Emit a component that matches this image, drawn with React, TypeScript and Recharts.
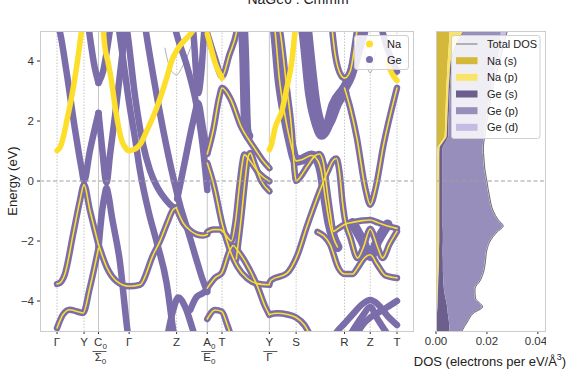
import React from 'react';
import { ComposedChart, Line, Area, XAxis, YAxis, ReferenceLine } from 'recharts';

const FONT = '"Liberation Sans", Arial, sans-serif';
const PURPLE = '#7a6daa';
const YELLOW = '#fdde2a';

type Pt = [number, number];

// k-path (high symmetry points) and labels
const kTicks = [0, 0.27, 0.414, 0.72, 1.194, 1.5, 1.647, 2.12, 2.387, 2.87, 3.127, 3.394];
const kLabels = ['Γ', 'Y', 'C_0|Σ_0', 'Γ', 'Z', 'A_0|E_0', 'T', 'Y|Γ', 'S', 'R', 'Z', 'T'];
const kSolid = [0.414, 0.72, 1.5, 2.12];
const eTicks = [-4, -2, 0, 2, 4];

// Na dominated bands
const na1: Pt[] = [[0, 1.01], [0.03, 1.12], [0.06, 1.43], [0.1, 2.05], [0.144, 2.77], [0.194, 3.77], [0.244, 4.99], [0.26, 5.4]];
const na2: Pt[] = [[0.46, 5.1], [0.477, 4.49], [0.51, 3.95], [0.544, 3.32], [0.587, 2.32], [0.644, 1.37], [0.68, 1.12], [0.72, 1.01], [0.76, 1.04], [0.794, 1.1], [0.827, 1.21], [0.894, 1.66], [0.994, 2.43], [1.094, 3.43], [1.144, 4.0], [1.21, 4.43], [1.327, 4.88], [1.4, 5.2]];
const na3: Pt[] = [[1.5, 4.9], [1.54, 4.4], [1.577, 3.95], [1.62, 3.6], [1.647, 3.43]];
const na4: Pt[] = [[2.12, 1.04], [2.14, 1.2], [2.177, 1.77], [2.244, 2.32], [2.294, 3.1], [2.344, 3.99], [2.377, 4.99], [2.4, 5.5]];
const na5: Pt[] = [[3.3, 3.9], [3.35, 3.55], [3.394, 3.35]];

// Ge dominated bands: Γ–Y–C0
const gY1: Pt[] = [[0, 5.3], [0.03, 4.95], [0.094, 3.66], [0.177, 1.77], [0.244, 0.43], [0.27, 0.0], [0.327, 0.99], [0.414, 2.27]];
const gY2: Pt[] = [[0.3, 5.5], [0.32, 5.0], [0.377, 3.77], [0.414, 3.27]];
const gY3: Pt[] = [[0, -3.43], [0.027, -3.4], [0.077, -3.12], [0.16, -1.79], [0.227, -0.68], [0.27, -0.12], [0.327, -0.96], [0.414, -2.12]];
const gY4: Pt[] = [[0, -4.9], [0.06, -4.45], [0.127, -4.29], [0.2, -4.35], [0.26, -4.4], [0.327, -3.57], [0.414, -2.24]];
// Σ0–Γ–Z
const gS1: Pt[] = [[0.414, 3.27], [0.46, 3.66], [0.527, 4.99], [0.55, 5.5]];
const gS2: Pt[] = [[0.414, 2.27], [0.45, 1.1], [0.494, -0.05], [0.53, 0.9], [0.58, 2.2], [0.63, 3.6], [0.68, 5.0], [0.7, 5.5]];
const gS3: Pt[] = [[0.414, -2.24], [0.45, -1.0], [0.477, -0.45], [0.494, -0.23], [0.515, -0.5], [0.544, -1.12], [0.627, -2.68], [0.7, -4.9], [0.72, -5.4]];
const gS4: Pt[] = [[0.414, -2.12], [0.5, -2.9], [0.594, -3.34], [0.72, -3.51], [0.827, -3.46], [0.96, -2.46], [1.027, -2.01], [1.1, -1.4], [1.16, -0.95], [1.194, -0.88]];
const gG1: Pt[] = [[0.6, 5.5], [0.65, 4.3], [0.72, 2.6], [0.78, 1.4], [0.827, 0.37], [0.92, -1.1], [0.994, -2.02], [1.094, -3.4], [1.16, -4.97], [1.19, -5.6]];
const gG2: Pt[] = [[0.67, 5.6], [0.7, 5.0], [0.78, 2.8], [0.86, 1.2], [0.927, 0.37], [1.0, -0.2], [1.08, -0.6], [1.16, -0.87], [1.194, -0.92]];
const gG3: Pt[] = [[0.86, 5.6], [0.887, 5.0], [0.994, 2.88], [1.09, 1.2], [1.177, -0.12], [1.194, -0.35], [1.24, -0.95], [1.294, -1.52], [1.39, -2.6], [1.45, -3.25], [1.5, -3.7]];
const gG4: Pt[] = [[1.094, -5.3], [1.16, -4.3], [1.21, -3.88], [1.28, -4.2], [1.36, -5.0], [1.4, -5.4]];
// Z–A0
const gZ1: Pt[] = [[1.194, -0.92], [1.26, -1.4], [1.33, -1.65], [1.394, -1.78], [1.46, -1.82], [1.5, -1.78]];
const gZ2: Pt[] = [[1.15, 5.5], [1.194, 4.9], [1.3, 3.8], [1.394, 2.5], [1.45, 1.3], [1.5, -0.3]];
const gZ3: Pt[] = [[1.33, 5.5], [1.36, 4.99], [1.394, 3.4], [1.41, 2.93], [1.44, 3.6], [1.47, 4.99], [1.49, 5.5]];
const gZ4: Pt[] = [[1.33, -4.3], [1.394, -3.86], [1.45, -3.75], [1.5, -3.63]];
const gZ5: Pt[] = [[1.2, -0.6], [1.277, 0.66], [1.36, 2.0], [1.41, 2.6], [1.45, 1.9], [1.5, 0.93]];
// E0–T–Y
const gE1: Pt[] = [[1.5, 4.92], [1.577, 4.1], [1.647, 3.48], [1.72, 4.2], [1.794, 4.99], [1.82, 5.5]];
const gE2: Pt[] = [[1.5, 0.9], [1.56, 1.7], [1.62, 2.8], [1.647, 3.1], [1.73, 2.75], [1.844, 1.77], [1.9, 1.45], [1.98, 1.05], [2.05, 0.7], [2.12, 0.43]];
const gE3: Pt[] = [[1.5, -1.7], [1.56, -1.62], [1.627, -1.62], [1.68, -1.78], [1.74, -2.0], [1.78, -1.4], [1.82, -0.2], [1.85, 0.6], [1.87, 0.88], [1.92, 0.7], [2.02, 0.25], [2.12, -0.01]];
const gE4: Pt[] = [[1.79, -2.6], [1.84, -1.2], [1.88, 0.1], [1.907, 0.8], [1.93, 0.93], [1.97, 0.6], [2.04, 0.0], [2.12, -0.34]];
const gE5: Pt[] = [[1.5, -3.57], [1.577, -3.23], [1.644, -3.07], [1.72, -2.35], [1.76, -2.15], [1.8, -2.3], [1.877, -2.68], [2.0, -3.5], [2.08, -4.2], [2.12, -4.46]];
const gE6: Pt[] = [[1.5, 0.6], [1.57, -0.2], [1.647, -1.41], [1.72, -2.25], [1.8, -2.85], [1.9, -3.25], [2.0, -3.42], [2.12, -3.46]];
const gE7: Pt[] = [[1.5, -4.6], [1.577, -4.3], [1.644, -4.35], [1.7, -4.8], [1.76, -5.4]];
const gE8: Pt[] = [[1.85, 5.5], [1.87, 4.0], [1.88, 2.5], [1.89, 1.7], [1.91, 1.5]];
// Γ–S–R–Z–T
const gR1: Pt[] = [[2.18, 5.6], [2.227, 4.99], [2.294, 3.1], [2.344, 1.66], [2.37, 0.4], [2.387, 0.0], [2.42, 0.1], [2.5, 0.5], [2.58, 0.85], [2.62, 0.9], [2.66, 0.6], [2.7, -0.4], [2.73, -1.12], [2.76, -1.68], [2.8, -1.6], [2.87, -1.45], [2.95, -1.38], [3.05, -1.32], [3.127, -1.3], [3.2, -1.38], [3.3, -1.5], [3.394, -1.58]];
const gR2: Pt[] = [[2.15, 5.6], [2.177, 4.99], [2.22, 3.4], [2.27, 2.3], [2.33, 1.3], [2.387, 0.67], [2.45, 0.72], [2.54, 0.85], [2.6, 0.7], [2.64, 0.3], [2.68, -0.6], [2.72, -1.4], [2.76, -1.9], [2.8, -2.2]];
const gR3: Pt[] = [[2.12, -3.41], [2.14, -3.3], [2.294, -3.08], [2.394, -2.52], [2.494, -1.52], [2.627, -0.3], [2.7, 0.3], [2.76, 0.7], [2.79, 0.75], [2.82, 0.3], [2.85, -0.7], [2.87, -1.2], [2.93, -1.9], [3.0, -2.57], [3.06, -2.2], [3.127, -1.6], [3.2, -2.2], [3.25, -2.57], [3.32, -2.1], [3.394, -1.68]];
const gR4: Pt[] = [[2.6, -1.7], [2.727, -2.12], [2.81, -2.9], [2.87, -3.1], [2.95, -3.1], [3.0, -2.9], [3.06, -2.6], [3.127, -2.46], [3.2, -2.8], [3.28, -3.15], [3.394, -3.23]];
const gR5: Pt[] = [[2.95, -1.4], [3.05, -2.0], [3.127, -2.5], [3.2, -2.0], [3.3, -1.45]];
const gR6: Pt[] = [[2.12, -4.45], [2.2, -4.41], [2.3, -4.45], [2.387, -4.55], [2.47, -4.8], [2.55, -5.3]];
const gR7: Pt[] = [[2.7, -5.5], [2.8, -5.0], [2.87, -4.75], [2.95, -4.45], [3.05, -4.1], [3.127, -3.97], [3.2, -4.1], [3.3, -4.5], [3.394, -4.8]];
const gR8: Pt[] = [[2.87, -5.4], [2.95, -5.0], [3.05, -4.5], [3.127, -4.2], [3.2, -4.6], [3.3, -5.1], [3.394, -5.4]];
const gR9: Pt[] = [[2.95, -5.4], [3.05, -4.8], [3.127, -4.55], [3.2, -4.4], [3.3, -4.2], [3.394, -4.0]];
const gR10: Pt[] = [[2.43, 5.6], [2.46, 4.99], [2.527, 2.88], [2.594, 1.88], [2.644, 1.54], [2.694, 1.77], [2.76, 2.54], [2.87, 3.1], [2.93, 3.5], [3.0, 4.3], [3.06, 5.0], [3.1, 5.5]];
const gR11: Pt[] = [[2.48, 5.6], [2.52, 4.3], [2.58, 2.6], [2.62, 2.0], [2.67, 1.75], [2.72, 1.95], [2.8, 2.6], [2.87, 2.95]];
const gR12: Pt[] = [[2.87, 3.1], [2.93, 2.4], [2.994, 1.43], [3.077, -0.23], [3.127, -0.79], [3.18, -0.25], [3.26, 1.21], [3.377, 2.88], [3.394, 3.1]];
const gR13: Pt[] = [[2.73, 5.6], [2.777, 4.21], [2.84, 3.5], [2.87, 3.43], [2.927, 3.66], [2.994, 4.99], [3.02, 5.5]];
const gR14: Pt[] = [[3.2, 5.6], [3.3, 4.4], [3.394, 3.65]];

// bands with almost no projected weight (thin total line)
const bare1: Pt[] = [[1.077, 4.43], [1.13, 3.75], [1.194, 3.54], [1.25, 3.8], [1.307, 4.21], [1.35, 4.6]];
const bare2: Pt[] = [[3.07, 4.3], [3.127, 3.6], [3.18, 4.3]];

const naBands = [na1, na2, na3, na4, na5];
const geBands = [gY1, gY2, gY3, gY4, gS1, gS2, gS3, gS4, gG1, gG2, gG3, gG4, gZ1, gZ2, gZ3, gZ4, gZ5, gE1, gE2, gE3, gE4, gE5, gE6, gE7, gR1, gR3, gR4, gR6, gR7, gR8, gR9, gR12, gR13, gR14];
const geWideBands = [gE8, gR2, gR5, gR10, gR11];
const naCoreBands = [gY3, gY4, gS4, gZ1, gE1, gE2, gE3, gE4, gE5, gE6, gE7, gR1, gR2, gR3, gR4, gR6, gR12, gR13];
const bareBands = [bare1, bare2];

// DOS (electrons per eV/Å^3, in units of 1e-3)
const dosE = [-5, -4.7, -4.4, -4.2, -3.9, -3.6, -3.3, -3, -2.7, -2.3, -2, -1.7, -1.5, -1.3, -1, -0.5, 0, 0.4, 0.8, 1.1, 1.3, 1.5, 2, 2.5, 3, 3.5, 4, 4.5, 5];
const dosTotal = [10.2, 12.3, 14.8, 18.3, 15.5, 15.3, 17.5, 18.8, 19.4, 20, 21.3, 24, 26.4, 24.5, 22.5, 21, 20, 19.2, 18.8, 18.6, 18.8, 19.2, 20, 21, 22, 23.5, 25, 26.5, 28];
const dosNaS = [0.1, 0.1, 0.1, 0.2, 0.2, 0.2, 0.2, 0.3, 0.3, 0.3, 0.3, 0.3, 0.3, 0.3, 0.3, 0.3, 0.4, 0.4, 0.4, 0.6, 2.0, 3.4, 3.6, 3.8, 4.0, 4.3, 4.6, 5.0, 5.3];
const dosNaP = [0.2, 0.2, 0.3, 0.4, 0.5, 0.6, 0.7, 0.8, 0.9, 0.9, 1.0, 1.0, 1.0, 1.0, 1.0, 1.0, 0.9, 0.9, 0.9, 0.8, 0.8, 0.8, 0.8, 0.9, 0.9, 1.0, 1.2, 2.5, 5.5];
const dosGeS = [5.0, 4.8, 4.2, 3.8, 3.0, 2.3, 2.0, 1.6, 1.5, 1.4, 1.4, 1.4, 1.3, 1.3, 1.3, 1.3, 1.3, 1.3, 1.3, 1.2, 1.0, 0.6, 0.5, 0.5, 0.5, 0.5, 0.5, 0.5, 0.5];
const dosGeP = [4.7, 7.0, 10.0, 13.6, 11.5, 11.9, 14.3, 15.8, 16.4, 17.1, 18.3, 21.0, 23.5, 21.6, 19.6, 18.1, 17.1, 16.3, 15.9, 15.7, 14.7, 14.1, 14.7, 15.3, 16.0, 16.9, 17.7, 17.0, 14.2];
const dosGeD = [0.2, 0.2, 0.2, 0.3, 0.3, 0.3, 0.3, 0.3, 0.3, 0.3, 0.3, 0.3, 0.3, 0.3, 0.3, 0.3, 0.3, 0.3, 0.3, 0.3, 0.3, 0.3, 0.4, 0.5, 0.6, 0.8, 1.0, 1.5, 2.5];
const dosTicks = [0, 20, 40];

const dosRows = dosE.map((e, i) => ({
  e,
  total: dosTotal[i],
  naS: dosNaS[i],
  naP: dosNaP[i],
  geS: dosGeS[i],
  geP: dosGeP[i],
  geD: dosGeD[i],
}));

const dosSeries = [
  { key: 'naS', name: 'Na (s)', color: '#d4b83a' },
  { key: 'naP', name: 'Na (p)', color: '#fae36a' },
  { key: 'geS', name: 'Ge (s)', color: '#6c5f8e' },
  { key: 'geP', name: 'Ge (p)', color: '#978ebb' },
  { key: 'geD', name: 'Ge (d)', color: '#c6bbe3' },
];

const toRows = (pts: Pt[]) => pts.map(([k, e]) => ({ k, e }));

const minus = (v: number) => (v < 0 ? `\u2212${-v}` : `${v}`);

const Sym = ({ x, y, s }: { x: number; y: number; s: string }) => {
  const [main, sub] = s.split('_');
  return (
    <text x={x} y={y} textAnchor="middle" fontSize={11.5} fill="#333" fontFamily={FONT}>
      {main}
      {sub && (
        <tspan fontSize={8} dy={3}>
          {sub}
        </tspan>
      )}
    </text>
  );
};

const KTick = (props: any) => {
  const { x, y, payload } = props;
  const i = kTicks.indexOf(payload.value);
  const parts = (kLabels[i] || '').split('|');
  if (parts.length === 1) return <Sym x={x} y={y + 9} s={parts[0]} />;
  return (
    <g>
      <Sym x={x + (parts[0].includes('_') ? 2 : 0)} y={y + 9} s={parts[0]} />
      <line x1={x - 6} x2={x + 8} y1={y + 14.5} y2={y + 14.5} stroke="#333" strokeWidth={0.8} />
      <Sym x={x + (parts[1].includes('_') ? 2 : 0)} y={y + 24} s={parts[1]} />
    </g>
  );
};

// outward tick marks for the DOS energy axis (labels are shared with the band panel)
const DosYTick = (props: any) => {
  const { y } = props;
  return <line x1={432} x2={436} y1={y} y2={y} stroke="#333" />;
};

const bandLine = (pts: Pt[], key: string, stroke: string, width: number) => (
  <Line
    key={key}
    data={toRows(pts)}
    dataKey="e"
    type="monotone"
    stroke={stroke}
    strokeWidth={width}
    strokeLinecap="round"
    strokeLinejoin="round"
    dot={false}
    activeDot={false}
    isAnimationActive={false}
  />
);

const BandChart = () => (
  <ComposedChart width={414} height={377} margin={{ top: 31, right: 0, bottom: 0, left: 0 }}>
    <XAxis
      type="number"
      dataKey="k"
      domain={[-0.17, 3.564]}
      ticks={kTicks}
      interval={0}
      allowDataOverflow
      height={46}
      axisLine={false}
      tickSize={3}
      tickMargin={3}
      tickLine={{ stroke: '#333' }}
      tick={<KTick />}
    />
    <YAxis
      type="number"
      domain={[-5, 5]}
      ticks={eTicks}
      allowDataOverflow
      width={40}
      axisLine={false}
      tickSize={3}
      tickMargin={3}
      tickLine={{ stroke: '#333' }}
      tickFormatter={minus}
      tick={{ fill: '#333', fontSize: 11.5, fontFamily: FONT }}
    />
    {kTicks.map((k, i) => (
      <ReferenceLine
        key={`v${i}`}
        x={k}
        stroke="#b8b8b8"
        strokeWidth={0.8}
        strokeDasharray={kSolid.includes(k) ? undefined : '1.5 1.5'}
      />
    ))}
    {bareBands.map((b, i) => bandLine(b, `bare${i}`, '#9a9a9a', 0.8))}
    {geWideBands.map((b, i) => bandLine(b, `gw${i}`, PURPLE, 10))}
    {geBands.map((b, i) => bandLine(b, `g${i}`, PURPLE, 6.5))}
    {naBands.map((b, i) => bandLine(b, `na${i}`, YELLOW, 5.5))}
    {naCoreBands.map((b, i) => bandLine(b, `nc${i}`, YELLOW, 1.6))}
    <ReferenceLine y={0} stroke="#a0a0a0" strokeWidth={1.2} strokeDasharray="4 2.5" />
  </ComposedChart>
);

const DosChart = () => (
  <ComposedChart layout="vertical" width={546} height={377} data={dosRows} margin={{ top: 31, right: 0, bottom: 0, left: 436 }}>
    <XAxis
      type="number"
      domain={[0, 43.2]}
      ticks={dosTicks}
      allowDataOverflow
      height={46}
      axisLine={false}
      tickSize={3}
      tickMargin={3}
      tickLine={{ stroke: '#333' }}
      tickFormatter={(v: number) => (v / 1000).toFixed(2)}
      tick={{ fill: '#333', fontSize: 11.5, fontFamily: FONT }}
    />
    <YAxis
      type="number"
      dataKey="e"
      domain={[-5, 5]}
      ticks={eTicks}
      reversed
      allowDataOverflow
      width={0}
      axisLine={false}
      tickLine={false}
      tick={<DosYTick />}
    />
    {dosSeries.map((s) => (
      <Area
        key={s.key}
        dataKey={s.key}
        stackId="dos"
        type="monotone"
        stroke="none"
        fill={s.color}
        fillOpacity={1}
        isAnimationActive={false}
      />
    ))}
    <Line dataKey="total" type="monotone" stroke="#707070" strokeWidth={1} dot={false} activeDot={false} isAnimationActive={false} />
    <ReferenceLine y={0} stroke="#a0a0a0" strokeWidth={1.2} strokeDasharray="4 2.5" />
  </ComposedChart>
);

const Overlay = () => {
  const rows = [44, 60.7, 77.3, 94, 110.7, 127.3];
  return (
    <svg width={574} height={377} style={{ position: 'absolute', left: 0, top: 0, pointerEvents: 'none' }} fontFamily={FONT}>
      <text x={298} y={4} textAnchor="middle" fontSize={14} fill="#222">
        NaGe6 : Cmmm
      </text>
      <rect x={40.5} y={31.5} width={373} height={300} fill="none" stroke="#cccccc" />
      <rect x={436.5} y={31.5} width={109} height={300} fill="none" stroke="#cccccc" />
      <text transform="translate(17,181) rotate(-90)" textAnchor="middle" fontSize={13} fill="#222">
        Energy (eV)
      </text>
      <text x={490} y={366} textAnchor="middle" fontSize={13} fill="#222">
        DOS (electrons per eV/Å
        <tspan fontSize={9} dy={-6}>3</tspan>
        <tspan dy={6}>)</tspan>
      </text>
      {/* band legend */}
      <rect x={354.5} y={35.5} width={54} height={34} rx={2.5} fill="#fff" fillOpacity={0.85} stroke="#d0d0d0" />
      <circle cx={369.5} cy={44} r={3.5} fill={YELLOW} />
      <text x={387} y={48} fontSize={11} fill="#222">Na</text>
      <circle cx={369.5} cy={59.5} r={3.5} fill={PURPLE} />
      <text x={387} y={63.5} fontSize={11} fill="#222">Ge</text>
      {/* DOS legend */}
      <rect x={451.5} y={35.5} width={88.5} height={103} rx={2.5} fill="#fff" fillOpacity={0.85} stroke="#d0d0d0" />
      <line x1={456} x2={477.5} y1={rows[0]} y2={rows[0]} stroke="#707070" strokeWidth={1} />
      <text x={487} y={rows[0] + 4} fontSize={11} fill="#222">Total DOS</text>
      {dosSeries.map((s, i) => (
        <g key={s.key}>
          <rect x={456} y={rows[i + 1] - 3.5} width={21.5} height={7} fill={s.color} />
          <text x={487} y={rows[i + 1] + 4} fontSize={11} fill="#222">{s.name}</text>
        </g>
      ))}
    </svg>
  );
};

export default function App() {
  return (
    <div style={{ position: 'absolute', left: 0, top: 0, width: 574, height: 377, background: '#fff', fontFamily: FONT }}>
      <div style={{ position: 'absolute', left: 0, top: 0 }}>
        <DosChart />
      </div>
      <div style={{ position: 'absolute', left: 0, top: 0 }}>
        <BandChart />
      </div>
      <Overlay />
    </div>
  );
}
